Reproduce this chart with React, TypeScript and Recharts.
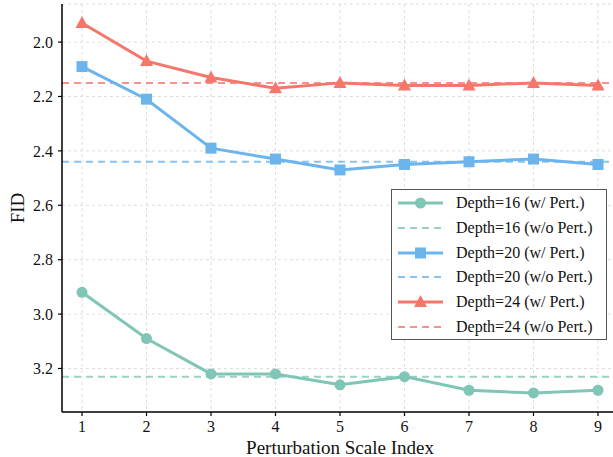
import React from 'react';
import {
  ComposedChart,
  Line,
  XAxis,
  YAxis,
  CartesianGrid,
  ReferenceLine,
  Legend,
} from 'recharts';

// perturbation scale index on the x axis
const scaleIndex = [1, 2, 3, 4, 5, 6, 7, 8, 9];

// FID with perturbation, one array per depth
const depth16 = [2.92, 3.09, 3.22, 3.22, 3.26, 3.23, 3.28, 3.29, 3.28];
const depth20 = [2.09, 2.21, 2.39, 2.43, 2.47, 2.45, 2.44, 2.43, 2.45];
const depth24 = [1.93, 2.07, 2.13, 2.17, 2.15, 2.16, 2.16, 2.15, 2.16];

// FID without perturbation (flat baselines)
const baselines = [3.23, 2.44, 2.15];

const depthNames = ['Depth=16', 'Depth=20', 'Depth=24'];
const yTicks = [2.0, 2.2, 2.4, 2.6, 2.8, 3.0, 3.2];

const colors = ['#80c6b6', '#6cb5ec', '#f5776b'];
const shapes = ['circle', 'square', 'triangle'];
const seriesKeys = ['d16', 'd20', 'd24'];

const data = scaleIndex.map((x, i) => ({
  x,
  d16: depth16[i],
  d20: depth20[i],
  d24: depth24[i],
}));

const FONT = "'Liberation Serif', 'Times New Roman', Times, 'DejaVu Serif', serif";

const Marker = ({ cx, cy, shape, color }: any) => {
  if (cx == null || cy == null) return null;
  if (shape === 'square') {
    return <rect x={cx - 5.5} y={cy - 5.5} width={11} height={11} fill={color} />;
  }
  if (shape === 'triangle') {
    return (
      <polygon
        points={`${cx},${cy - 7} ${cx - 6.5},${cy + 5} ${cx + 6.5},${cy + 5}`}
        fill={color}
      />
    );
  }
  return <circle cx={cx} cy={cy} r={5.5} fill={color} />;
};

const LegendBox = () => {
  const rows: any[] = [];
  depthNames.forEach((name, i) => {
    rows.push({ label: `${name} (w/ Pert.)`, color: colors[i], shape: shapes[i], dashed: false });
    rows.push({ label: `${name} (w/o Pert.)`, color: colors[i], shape: null, dashed: true });
  });
  return (
    <div
      style={{
        border: '1.2px solid #555',
        background: '#fff',
        width: 216,
        height: 151,
        boxSizing: 'border-box',
        padding: '1px 0 0 4px',
        fontFamily: FONT,
        fontSize: 16,
        color: '#111',
      }}
    >
      {rows.map((r, k) => (
        <div key={k} style={{ display: 'flex', alignItems: 'center', height: 24.7 }}>
          <svg width={60} height={20} style={{ flex: 'none' }}>
            <line
              x1={2}
              x2={47}
              y1={10}
              y2={10}
              stroke={r.color}
              strokeWidth={r.dashed ? 2 : 3}
              strokeDasharray={r.dashed ? '7 5' : undefined}
              strokeOpacity={r.dashed ? 0.8 : 1}
            />
            {r.shape && <Marker cx={24.5} cy={10} shape={r.shape} color={r.color} />}
          </svg>
          <span style={{ whiteSpace: 'nowrap' }}>{r.label}</span>
        </div>
      ))}
    </div>
  );
};

export default function App() {
  return (
    <div
      style={{
        position: 'absolute',
        left: 0,
        top: 0,
        width: 613,
        height: 457,
        overflow: 'hidden',
        background: '#fff',
        fontFamily: FONT,
      }}
    >
      <ComposedChart
        width={640}
        height={457}
        data={data}
        margin={{ top: 4, right: 22, bottom: 0, left: 0 }}
        style={{ fontFamily: FONT }}
      >
        <CartesianGrid stroke="#dedede" strokeDasharray="3 3" />
        <XAxis
          dataKey="x"
          type="number"
          domain={[0.69, 9.31]}
          ticks={scaleIndex}
          height={45}
          tickSize={4}
          tickMargin={5}
          axisLine={{ stroke: '#000', strokeWidth: 1.5 }}
          tickLine={{ stroke: '#000', strokeWidth: 1.2 }}
          tick={{ fill: '#111', fontSize: 16, style: { fontFamily: FONT } }}
          label={{
            value: 'Perturbation Scale Index',
            position: 'insideBottom',
            offset: 3,
            fill: '#111',
            fontSize: 19,
            style: { fontFamily: FONT },
          }}
        />
        <XAxis
          xAxisId="top"
          dataKey="x"
          type="number"
          orientation="top"
          domain={[0.69, 9.31]}
          height={0}
          tick={false}
          tickLine={false}
          axisLine={{ stroke: '#000', strokeWidth: 1.5 }}
        />
        <YAxis
          type="number"
          reversed
          domain={[1.86, 3.36]}
          ticks={yTicks}
          width={62}
          tickSize={4}
          tickMargin={5}
          tickFormatter={(v: number) => v.toFixed(1)}
          axisLine={{ stroke: '#000', strokeWidth: 1.5 }}
          tickLine={{ stroke: '#000', strokeWidth: 1.2 }}
          tick={{ fill: '#111', fontSize: 16, style: { fontFamily: FONT } }}
          label={{
            value: 'FID',
            angle: -90,
            position: 'insideLeft',
            offset: 17,
            fill: '#111',
            fontSize: 19,
            style: { textAnchor: 'middle', fontFamily: FONT },
          }}
        />
        {baselines.map((b, i) => (
          <ReferenceLine
            key={`base-${i}`}
            y={b}
            stroke={colors[i]}
            strokeOpacity={0.8}
            strokeWidth={2}
            strokeDasharray="7 5"
          />
        ))}
        {seriesKeys.map((k, i) => (
          <Line
            key={k}
            dataKey={k}
            name={`${depthNames[i]} (w/ Pert.)`}
            stroke={colors[i]}
            strokeWidth={3}
            isAnimationActive={false}
            dot={(p: any) => (
              <Marker key={`${k}-${p.index}`} cx={p.cx} cy={p.cy} shape={shapes[i]} color={colors[i]} />
            )}
            activeDot={false}
          />
        ))}
        <Legend
          layout="vertical"
          align="center"
          verticalAlign="middle"
          content={() => <LegendBox />}
          wrapperStyle={{ position: 'absolute', left: 391, top: 189, width: 'auto' }}
        />
      </ComposedChart>
    </div>
  );
}
